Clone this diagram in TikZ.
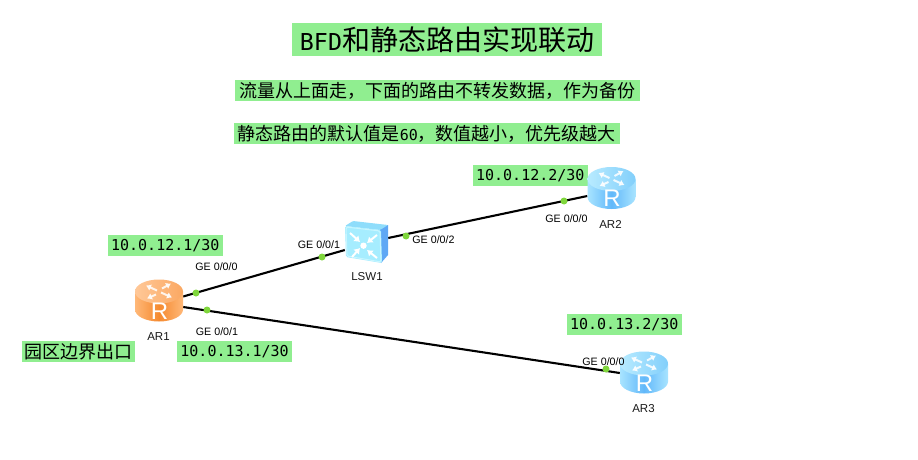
\documentclass[tikz,border=0pt]{standalone}
\usepackage{fontspec}
\setmainfont{Liberation Sans}
\newfontfamily\cjkfont{Noto Sans CJK SC}
\newfontfamily\monofont{DejaVu Sans Mono}
\usetikzlibrary{calc,arrows.meta}
\definecolor{hl}{HTML}{90EE90}
\definecolor{dotgreen}{HTML}{7FD63C}
\definecolor{orEdge}{HTML}{FFB878}
\definecolor{orMid}{HTML}{F58A30}
\definecolor{orTopA}{HTML}{FFC898}
\definecolor{orTopB}{HTML}{FBA862}
\definecolor{blEdge}{HTML}{A8E4FF}
\definecolor{blMid}{HTML}{62B8FA}
\definecolor{blTopA}{HTML}{B8EBFF}
\definecolor{blTopB}{HTML}{82CFFB}
\definecolor{swFront}{HTML}{A6EDFF}
\definecolor{swLight}{HTML}{C8F6FF}
\definecolor{swTop}{HTML}{8FDDFB}
\definecolor{swSide}{HTML}{5FA8F5}
\tikzset{
  x=1pt,y=-1pt,
  hlbox/.style={fill=hl,inner sep=0pt,text=black,anchor=center},
  link/.style={draw=black,line width=2.1pt},
  portdot/.style={circle,fill=dotgreen,inner sep=0pt,minimum size=7pt},
  portlabel/.style={font=\fontsize{10.7}{12}\selectfont,inner sep=0pt,text=black},
  devlabel/.style={font=\fontsize{11.5}{13}\selectfont,inner sep=0pt,text=black!90},
  devbox/.style={inner sep=0pt,minimum width=48pt,minimum height=42pt},
  chev/.style={white,line width=2pt,-{Latex[length=5.5pt,width=8pt]}},
}
\newcommand{\cn}[1]{{\cjkfont #1}}
\newcommand{\ipbox}[1]{\fontsize{15}{18}\monofont #1}
\newcommand{\routericon}[5]{% centre, edge, mid, top-light, top-dark
  \begin{scope}[shift={(#1)}]
    \path[left color=#2,right color=#2,middle color=#3]
      (-24,-9) -- (-24,9) arc[start angle=180,end angle=0,x radius=24,y radius=12] -- (24,-9) -- cycle;
    \path[left color=#4,right color=#5]
      (0,-9) ellipse[x radius=24,y radius=12];
    \begin{scope}[white,line width=2pt,opacity=.85,-{Latex[length=5pt,width=7pt]}]
      \draw (-2,-10) -- (-13,-15);
      \draw (2,-8) -- (13,-3);
      \draw (3,-12) -- (12,-17);
      \draw (-3,-6) -- (-12,-2);
    \end{scope}
    \node[white,inner sep=0pt,font=\fontsize{24}{24}\selectfont] at (0.5,10.5) {R};
  \end{scope}
}
\begin{document}
\begin{tikzpicture}
\useasboundingbox (0,0) rectangle (918,460);
\fill[white] (0,0) rectangle (918,460);
% text boxes
\node[hlbox,minimum width=310pt,minimum height=33pt,font=\fontsize{28}{30}\selectfont] (title) at (447,39.5)
  {{\fontsize{23.3}{28}\monofont BFD}\cn{和静态路由实现联动}\hspace{7pt}};
\node[hlbox,minimum width=405pt,minimum height=21pt,font=\fontsize{18}{20}\selectfont] (l1) at (437.5,90.5)
  {\cn{流量从上面走，下面的路由不转发数据，作为备份}};
\node[hlbox,minimum width=386.5pt,minimum height=21pt,font=\fontsize{18}{20}\selectfont] (l2) at (426.8,133.5)
  {\cn{静态路由的默认值是}{\fontsize{15}{18}\monofont 60}\cn{，数值越小，优先级越大}};
\node[hlbox,minimum width=114.5pt,minimum height=21pt] (ip1) at (165.3,245.5) {\ipbox{10.0.12.1/30}};
\node[hlbox,minimum width=114.5pt,minimum height=21pt] (ip2) at (234.6,351.5) {\ipbox{10.0.13.1/30}};
\node[hlbox,minimum width=114.5pt,minimum height=21pt] (ip3) at (530.3,175.5) {\ipbox{10.0.12.2/30}};
\node[hlbox,minimum width=114.5pt,minimum height=21pt] (ip4) at (624.3,324.5) {\ipbox{10.0.13.2/30}};
\node[hlbox,minimum width=113.5pt,minimum height=21pt,font=\fontsize{18}{20}\selectfont] (edge) at (78.7,351.5) {\cn{园区边界出口}};
% device anchors
\node[devbox] (ar1) at (159,300.5) {};
\node[devbox] (ar2) at (611.5,188) {};
\node[devbox] (ar3) at (644,372.5) {};
\node[inner sep=0pt,minimum width=43pt,minimum height=42pt] (lsw1) at (366.5,242) {};
% links
\draw[link] ($(ar1.east)+(0,-4)$) -- ($(lsw1.west)+(0,8)$);
\draw[link] ($(lsw1.east)+(0,-4)$) -- ($(ar2.west)+(0,8)$);
\draw[link] ($(ar1.east)+(0,6.5)$) -- ($(ar3.west)+(0,0.5)$);
% devices
\routericon{159,300.5}{orEdge}{orMid}{orTopA}{orTopB}
\routericon{611.5,188}{blEdge}{blMid}{blTopA}{blTopB}
\routericon{644,372.5}{blEdge}{blMid}{blTopA}{blTopB}
% switch
\fill[swSide] (380,228) -- (388,225) -- (388,255) -- (381,263) -- cycle;
\fill[swTop,rounded corners=1pt] (345,226) -- (353,221) -- (388,225) -- (380,230) -- cycle;
\fill[swFront,rounded corners=1.5pt] (345,226) -- (381,230) -- (382,263) -- (346,257) -- cycle;
\draw[swLight,line width=1pt,rounded corners=1.5pt] (346,227) -- (380,231) -- (381,262) -- (347,256) -- cycle;
\draw[chev] (350,233) -- (360,242);
\draw[chev] (377,235) -- (367,243);
\draw[chev] (352,257) -- (360,248);
\draw[chev] (377,258) -- (367,250);
\fill[white] (363.5,245.7) circle (3.2pt);
% dots
\node[portdot] (d1) at (196,293) {};
\node[portdot] (d2) at (322,257) {};
\node[portdot] (d3) at (406,236) {};
\node[portdot] (d4) at (564,201) {};
\node[portdot] (d5) at (207,310) {};
\node[portdot] (d6) at (606,369) {};
% labels
\node[portlabel] (p1) at (216.5,267) {GE 0/0/0};
\node[portlabel] (p2) at (319,245) {GE 0/0/1};
\node[portlabel] (p3) at (433.5,240) {GE 0/0/2};
\node[portlabel] (p4) at (566.5,219) {GE 0/0/0};
\node[portlabel] (p5) at (217,332) {GE 0/0/1};
\node[portlabel] (p6) at (603.5,362) {GE 0/0/0};
\node[devlabel] (n1) at (158.5,336.5) {AR1};
\node[devlabel] (n2) at (610.5,224.5) {AR2};
\node[devlabel] (n3) at (643.5,408.5) {AR3};
\node[devlabel] (n4) at (367,276.5) {LSW1};
\end{tikzpicture}
\end{document}
